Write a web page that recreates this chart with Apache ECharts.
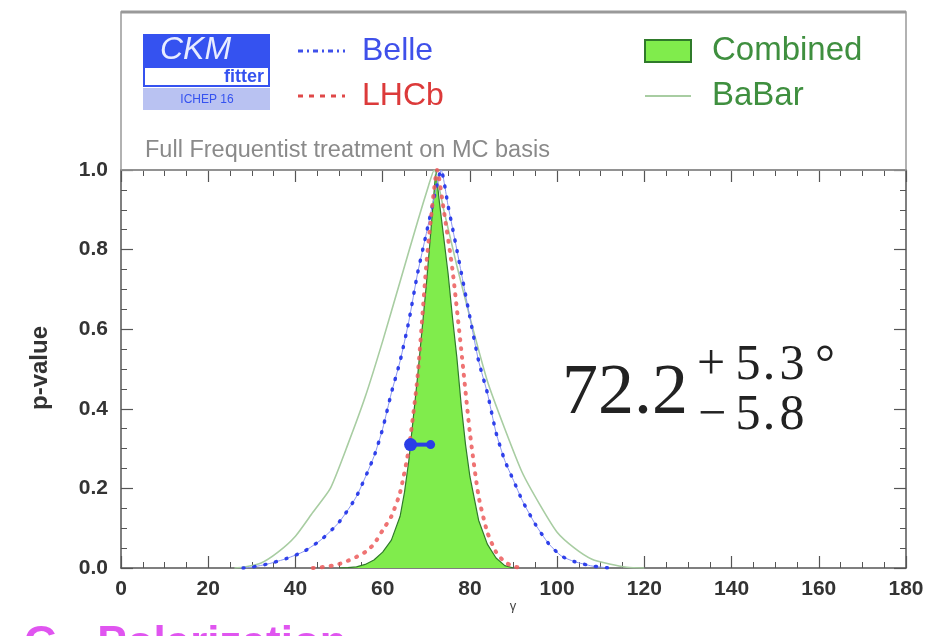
<!DOCTYPE html>
<html>
<head>
<meta charset="utf-8">
<script src="https://cdn.jsdelivr.net/npm/echarts@6/dist/echarts.min.js"></script>
<style>
html,body{margin:0;padding:0;background:#fff;}
#chart{width:943px;height:636px;}
</style>
</head>
<body>
<div id="chart"></div>
<script>
// ---- data ----
const xTicks = [0, 20, 40, 60, 80, 100, 120, 140, 160, 180];
const yTicks = [0.0, 0.2, 0.4, 0.6, 0.8, 1.0];

const combinedX = [50, 52, 54, 56, 58, 60, 62, 64, 65, 66, 68, 70, 71, 72.2, 73, 74, 75, 76, 77, 78, 79, 80, 82, 84, 86, 88, 90];
const combinedP = [0, 0.001, 0.003, 0.009, 0.02, 0.04, 0.07, 0.13, 0.19, 0.27, 0.48, 0.71, 0.84, 1.0, 0.92, 0.83, 0.74, 0.63, 0.53, 0.41, 0.31, 0.23, 0.12, 0.06, 0.025, 0.006, 0];

const lhcbX = [44, 46, 48, 50, 52, 54, 56, 58, 60, 62, 64, 66, 68, 70, 71, 72.5, 74, 76, 78, 80, 82, 84, 86, 88, 90, 92];
const lhcbP = [0, 0.002, 0.005, 0.01, 0.018, 0.028, 0.04, 0.06, 0.095, 0.13, 0.19, 0.3, 0.48, 0.76, 0.87, 1.0, 0.9, 0.75, 0.55, 0.34, 0.18, 0.09, 0.04, 0.015, 0.004, 0];

const belleX = [28, 30, 34, 38, 42, 46, 50, 54, 58, 60, 62, 64, 66, 68, 70, 72, 73.4, 75, 77, 80, 82, 84, 86, 88, 90, 92, 95, 98, 101, 104, 108, 112];
const belleP = [0, 0.002, 0.011, 0.024, 0.042, 0.072, 0.115, 0.18, 0.28, 0.35, 0.44, 0.52, 0.62, 0.74, 0.84, 0.94, 1.0, 0.91, 0.8, 0.63, 0.52, 0.44, 0.34, 0.27, 0.22, 0.17, 0.11, 0.062, 0.03, 0.016, 0.005, 0];

const babarX = [26, 28, 32, 36, 40, 44, 48, 52, 56, 60, 64, 68, 70.5, 71.8, 74, 77, 80, 84, 88, 92, 96, 100, 104, 108, 112, 116, 120];
const babarP = [0, 0.002, 0.012, 0.04, 0.08, 0.14, 0.2, 0.31, 0.43, 0.57, 0.72, 0.87, 0.96, 1.0, 0.9, 0.76, 0.63, 0.47, 0.35, 0.24, 0.16, 0.09, 0.05, 0.022, 0.01, 0.002, 0];

const belleMarkX = [66.4, 71.0];
const belleMarkP = [0.31, 0.31];

const pairs = (xs, ys) => xs.map((x, i) => [x, ys[i]]);

// ---- chart ----
const chart = echarts.init(document.getElementById('chart'), null, {renderer: 'canvas'});

const axisCol = '#555';
const tickCommon = () => ({
  axisLine: {show: true, onZero: false, lineStyle: {color: axisCol, width: 1.5}},
  axisTick: {show: true, inside: true, length: 12, lineStyle: {color: axisCol, width: 1.2}},
  minorTick: {show: true, splitNumber: 4, length: 6, lineStyle: {color: axisCol, width: 1}},
  splitLine: {show: false},
  minorSplitLine: {show: false}
});

const labelFont = {fontFamily: 'Liberation Sans', fontWeight: 'bold', fontSize: 21, color: '#333'};

const supFont = '50px "Liberation Serif"';
const supTxt = (t, x, y) => ({type: 'text', x: x, y: y, style: {text: t, font: supFont, fill: '#222', align: 'center', verticalAlign: 'top'}});

const option = {
  animation: false,
  backgroundColor: '#fff',
  grid: {left: 121, right: 37, top: 170, bottom: 68},
  xAxis: [
    Object.assign({
      type: 'value', min: 0, max: 180, interval: 20, position: 'bottom',
      axisLabel: Object.assign({margin: 11, formatter: v => xTicks.includes(v) ? String(v) : ''}, labelFont)
    }, tickCommon()),
    Object.assign({
      type: 'value', min: 0, max: 180, interval: 20, position: 'top', gridIndex: 0,
      axisLabel: {show: false}
    }, tickCommon())
  ],
  yAxis: [
    Object.assign({
      type: 'value', min: 0, max: 1, interval: 0.2, position: 'left',
      axisLabel: Object.assign({margin: 13,
        formatter: v => yTicks.some(t => Math.abs(t - v) < 1e-9) ? v.toFixed(1) : ''}, labelFont)
    }, tickCommon()),
    Object.assign({
      type: 'value', min: 0, max: 1, interval: 0.2, position: 'right', gridIndex: 0,
      axisLabel: {show: false}
    }, tickCommon())
  ],
  series: [
    {
      name: 'Combined', type: 'line', xAxisIndex: 0, yAxisIndex: 0,
      data: pairs(combinedX, combinedP), showSymbol: false, symbol: 'none',
      lineStyle: {color: '#2f7a2a', width: 1.2},
      areaStyle: {color: '#80ec4c', opacity: 1},
      z: 2
    },
    {
      name: 'BaBar', type: 'line', data: pairs(babarX, babarP), symbol: 'none', smooth: 0.2,
      lineStyle: {color: '#a8cda2', width: 1.6}, z: 3
    },
    {
      name: 'Belle', type: 'line', data: pairs(belleX, belleP), symbol: 'none', smooth: 0.2,
      lineStyle: {color: '#8a96f2', width: 1}, z: 4
    },
    {
      name: 'Belle dots', type: 'line', data: pairs(belleX, belleP), symbol: 'none', smooth: 0.2,
      lineStyle: {color: '#2f40ea', width: 3.5, type: [1, 10], cap: 'round'}, z: 5
    },
    {
      name: 'LHCb', type: 'line', data: pairs(lhcbX, lhcbP), symbol: 'none', smooth: 0.2,
      lineStyle: {color: '#ec5a5a', width: 4, type: [1, 8], cap: 'round', opacity: 0.85}, z: 6
    },
    {
      name: 'Belle point', type: 'line',
      data: belleMarkX.map((x, i) => ({value: [x, belleMarkP[i]], symbolSize: i === 0 ? 13 : 9})),
      symbol: 'circle', showSymbol: true,
      itemStyle: {color: '#2a3ee6'},
      lineStyle: {color: '#2a3ee6', width: 4}, z: 7
    }
  ],
  graphic: [
    // legend frame
    {type: 'rect', shape: {x: 121, y: 12, width: 785, height: 158}, style: {fill: 'none', stroke: '#999', lineWidth: 1.5}, z: 1},
    {type: 'line', shape: {x1: 121, y1: 12, x2: 906, y2: 12}, style: {stroke: '#999', lineWidth: 3}, z: 1},
    // CKMfitter logo
    {type: 'rect', shape: {x: 143, y: 34, width: 127, height: 32}, style: {fill: '#3552f0'}},
    {type: 'text', x: 160, y: 50, style: {text: 'CKM', font: 'italic 32px "Liberation Sans"', fill: '#e8ecff', verticalAlign: 'middle'}},
    {type: 'rect', shape: {x: 144, y: 67, width: 125, height: 19}, style: {fill: '#fff', stroke: '#3552f0', lineWidth: 2}},
    {type: 'text', x: 264, y: 77, style: {text: 'fitter', font: 'bold 18px "Liberation Sans"', fill: '#3552f0', align: 'right', verticalAlign: 'middle'}},
    {type: 'rect', shape: {x: 143, y: 88, width: 127, height: 22}, style: {fill: '#b9c2f2'}},
    {type: 'text', x: 207, y: 100, style: {text: 'ICHEP 16', font: '12px "Liberation Sans"', fill: '#3552f0', align: 'center', verticalAlign: 'middle'}},
    // legend entries
    {type: 'line', shape: {x1: 298, y1: 51, x2: 345, y2: 51}, style: {stroke: '#3f50ea', lineWidth: 3, lineDash: [5, 4, 2, 4]}},
    {type: 'text', x: 362, y: 51, style: {text: 'Belle', font: '32px "Liberation Sans"', fill: '#3f50ea', verticalAlign: 'middle'}},
    {type: 'line', shape: {x1: 298, y1: 96, x2: 345, y2: 96}, style: {stroke: '#e04848', lineWidth: 3, lineDash: [5, 6]}},
    {type: 'text', x: 362, y: 96, style: {text: 'LHCb', font: '32px "Liberation Sans"', fill: '#dc3a3a', verticalAlign: 'middle'}},
    {type: 'rect', shape: {x: 645, y: 40, width: 46, height: 22}, style: {fill: '#80ec4c', stroke: '#2f7a2a', lineWidth: 2}},
    {type: 'text', x: 712, y: 51, style: {text: 'Combined', font: '33px "Liberation Sans"', fill: '#3f8f3f', verticalAlign: 'middle'}},
    {type: 'line', shape: {x1: 645, y1: 96, x2: 691, y2: 96}, style: {stroke: '#a8cda2', lineWidth: 2}},
    {type: 'text', x: 712, y: 96, style: {text: 'BaBar', font: '33px "Liberation Sans"', fill: '#3f8f3f', verticalAlign: 'middle'}},
    {type: 'text', x: 145, y: 151, style: {text: 'Full Frequentist treatment on MC basis', font: '23.5px "Liberation Sans"', fill: '#8a8a8a', verticalAlign: 'middle'}},
    // result  72.2 (+5.3°, -5.8)
    {type: 'text', x: 562, y: 358, style: {text: '72.2', font: '72px "Liberation Serif"', fill: '#222', verticalAlign: 'top'}},
    supTxt('+', 711, 341), supTxt('5', 748, 341), supTxt('.', 769, 341), supTxt('3', 792, 341), supTxt('°', 825, 341),
    supTxt('\u2212', 712, 391), supTxt('5', 748, 391), supTxt('.', 769, 391), supTxt('8', 792, 391),
    // axis titles
    {type: 'text', x: 40, y: 368, rotation: Math.PI / 2, style: {text: 'p-value', font: 'bold 24px "Liberation Sans"', fill: '#333', align: 'center', verticalAlign: 'middle'}},
    {type: 'text', x: 513, y: 606, style: {text: 'γ', font: '13px "Liberation Sans"', fill: '#444', align: 'center', verticalAlign: 'middle'}},
    // cut-off slide heading below
    {type: 'text', x: 24, y: 623, style: {text: 'G - Polarization', font: 'bold 44px "Liberation Sans"', fill: '#e055f0', verticalAlign: 'top'}}
  ]
};
chart.setOption(option);
</script>
</body>
</html>
